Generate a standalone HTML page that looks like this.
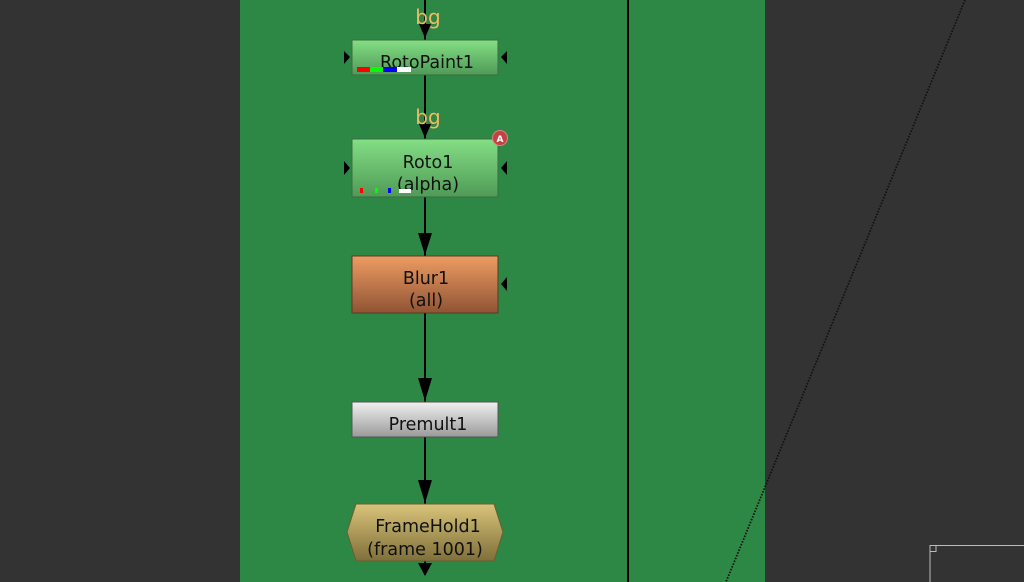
<!DOCTYPE html>
<html><head><meta charset="utf-8"><style>
html,body{margin:0;padding:0;background:#333;}
svg{display:block;}
text{font-family:"DejaVu Sans","Liberation Sans",sans-serif;}
</style></head><body>
<svg width="1024" height="582" viewBox="0 0 1024 582" xmlns="http://www.w3.org/2000/svg">
<defs>
<linearGradient id="gg" x1="0" y1="0" x2="0" y2="1"><stop offset="0" stop-color="#84df84"/><stop offset="1" stop-color="#4f9a57"/></linearGradient>
<linearGradient id="go" x1="0" y1="0" x2="0" y2="1"><stop offset="0" stop-color="#ee9c62"/><stop offset="1" stop-color="#8f5434"/></linearGradient>
<linearGradient id="gw" x1="0" y1="0" x2="0" y2="1"><stop offset="0" stop-color="#f0f0f0"/><stop offset="1" stop-color="#9a9a9a"/></linearGradient>
<linearGradient id="gy" x1="0" y1="0" x2="0" y2="1"><stop offset="0" stop-color="#d9c47a"/><stop offset="1" stop-color="#7f6f3a"/></linearGradient>
</defs>
<rect width="1024" height="582" fill="#333333"/>
<rect x="240" y="0" width="525" height="582" fill="#2e8845"/>
<line x1="628" y1="0" x2="628" y2="582" stroke="#000" stroke-width="2"/>
<line x1="965" y1="0" x2="726" y2="582" stroke="#111" stroke-width="1.8" stroke-dasharray="1.5,1.5"/>
<path d="M930 582 V545.5 H1024" fill="none" stroke="#bbb" stroke-width="1"/>
<rect x="930" y="545.5" width="6" height="6" fill="none" stroke="#bbb" stroke-width="1"/>
<line x1="425" y1="0" x2="425" y2="575" stroke="#000" stroke-width="2"/>
<g fill="#000">
<polygon points="419,24 431,24 425,38"/>
<polygon points="419,124 431,124 425,138"/>
<polygon points="418,233 432,233 425,255"/>
<polygon points="418,378 432,378 425,401"/>
<polygon points="418,480 432,480 425,503"/>
<polygon points="418,563 432,563 425,576"/>
</g>
<text x="428" y="24" fill="#f4b860" font-size="20" text-anchor="middle">bg</text>
<text x="428" y="124" fill="#f4b860" font-size="20" text-anchor="middle">bg</text>
<rect x="352" y="40" width="146" height="35" fill="url(#gg)" stroke="#3b6b3f"/>
<text x="427" y="68" font-size="17.5" text-anchor="middle" fill="#111">RotoPaint1</text>
<rect x="357" y="67" width="13" height="5" fill="#f00"/><rect x="370" y="67" width="13" height="5" fill="#0f0"/><rect x="383" y="67" width="14" height="5" fill="#00f"/><rect x="397" y="67" width="14" height="5" fill="#fff"/>
<polygon points="344,51 350,57 344,64" fill="#000"/><polygon points="507,51 501,57 507,64" fill="#000"/>
<rect x="352" y="139" width="146" height="58" fill="url(#gg)" stroke="#3b6b3f"/>
<text x="428" y="168" font-size="17.5" text-anchor="middle" fill="#111">Roto1</text>
<text x="428" y="190" font-size="17.5" text-anchor="middle" fill="#111">(alpha)</text>
<rect x="360" y="188" width="3" height="5" fill="#f00"/><rect x="375" y="188" width="3" height="5" fill="#0f0"/><rect x="388" y="188" width="3" height="5" fill="#00f"/><rect x="399" y="189" width="12" height="4" fill="#fff"/>
<polygon points="344,161 350,168 344,175" fill="#000"/><polygon points="507,161 501,168 507,175" fill="#000"/>
<circle cx="500" cy="138" r="7.5" fill="#c04444" stroke="#e08080"/>
<text x="500" y="142" font-size="9" text-anchor="middle" fill="#fff" font-weight="bold">A</text>
<rect x="352" y="256" width="146" height="57" fill="url(#go)" stroke="#5a3a22"/>
<text x="426" y="284" font-size="17.5" text-anchor="middle" fill="#111">Blur1</text>
<text x="426" y="306" font-size="17.5" text-anchor="middle" fill="#111">(all)</text>
<polygon points="507,277 501,284 507,291" fill="#000"/>
<rect x="352" y="402" width="146" height="35" fill="url(#gw)" stroke="#555"/>
<text x="428" y="430" font-size="17.5" text-anchor="middle" fill="#111">Premult1</text>
<polygon points="356,504 494,504 503,532 494,561 356,561 347,532" fill="url(#gy)" stroke="#6a5e30"/>
<text x="428" y="532" font-size="17.5" text-anchor="middle" fill="#111">FrameHold1</text>
<text x="425" y="555" font-size="17.5" text-anchor="middle" fill="#111">(frame 1001)</text>
</svg>
</body></html>
